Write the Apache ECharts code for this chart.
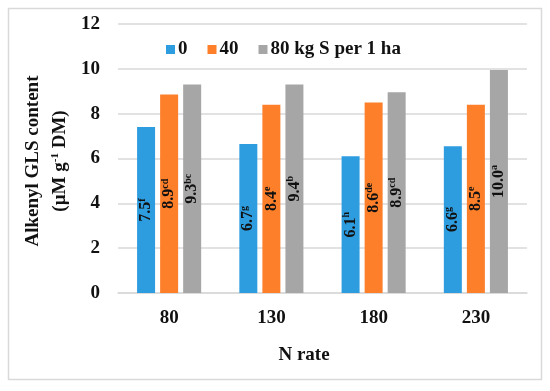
<!DOCTYPE html>
<html><head><meta charset="utf-8">
<script src="https://cdn.jsdelivr.net/npm/echarts@6/dist/echarts.min.js"></script>
<style>html,body{margin:0;padding:0;background:#fff}#c{width:550px;height:391px}</style>
</head><body><div id="c"></div>
<script>
const categories = ['80', '130', '180', '230'];
const seriesNames = ['0', '40', '80 kg S per 1 ha'];
const values0 = [7.4, 6.65, 6.1, 6.55];
const values40 = [8.85, 8.4, 8.5, 8.4];
const values80 = [9.3, 9.3, 8.95, 9.95];
const labels0 = [['7.5','f'], ['6.7','g'], ['6.1','h'], ['6.6','g']];
const labels40 = [['8.9','cd'], ['8.4','e'], ['8.6','de'], ['8.5','e']];
const labels80 = [['9.3','bc'], ['9.4','b'], ['8.9','cd'], ['10.0','a']];
const yTicks = [0, 2, 4, 6, 8, 10, 12];
const colors = ['#2e9de0', '#fd7f2a', '#a6a6a6'];

const FONT = '"Liberation Serif", "Times New Roman", serif';
const chart = echarts.init(document.getElementById('c'));

function mkSeries(name, vals, labs, color) {
  return {
    name: name, type: 'bar', barWidth: 18, barGap: '28%',
    itemStyle: { color: color },
    data: vals.map((v, i) => ({ value: v, lab: labs[i] })),
    label: {
      show: true, position: 'inside', rotate: 90,
      formatter: p => '{v|' + p.data.lab[0] + '}{s|' + p.data.lab[1] + '}',
      rich: {
        v: { fontFamily: FONT, fontWeight: 'bold', fontSize: 16, color: '#111' },
        s: { fontFamily: FONT, fontWeight: 'bold', fontSize: 10, color: '#111', padding: [0, 0, 8, 0] }
      }
    }
  };
}

chart.setOption({
  animation: false,
  textStyle: { fontFamily: FONT },
  grid: { left: 118, right: 23, top: 24, bottom: 98 },
  legend: {
    top: 35, left: 161, itemWidth: 9, itemHeight: 9, itemGap: 20,
    icon: 'rect',
    textStyle: { fontFamily: FONT, fontWeight: 'bold', fontSize: 19, color: '#111', padding: [0, 0, 0, -2] },
    data: seriesNames
  },
  xAxis: {
    type: 'category', data: categories,
    axisLine: { lineStyle: { color: '#d9d9d9', width: 1.5 } },
    axisTick: { show: false },
    axisLabel: { fontFamily: FONT, fontWeight: 'bold', fontSize: 19, color: '#111', margin: 16 }
  },
  yAxis: {
    type: 'value', min: yTicks[0], max: yTicks[yTicks.length - 1], interval: 2,
    axisLine: { show: false }, axisTick: { show: false },
    splitLine: { lineStyle: { color: '#d9d9d9', width: 1.5 } },
    axisLabel: { fontFamily: FONT, fontWeight: 'bold', fontSize: 19, color: '#111', margin: 18 }
  },
  graphic: [
    { type: 'rect', shape: { x: 8.5, y: 8.5, width: 533, height: 371 },
      style: { fill: 'none', stroke: '#d9d9d9', lineWidth: 1.5 }, silent: true },
    { type: 'text', x: 304, y: 355,
      style: { text: 'N rate', font: 'bold 19px ' + FONT, fill: '#111', align: 'center', verticalAlign: 'middle' } },
    { type: 'text', x: 33, y: 161, rotation: Math.PI / 2,
      style: { text: 'Alkenyl GLS content', font: 'bold 19px ' + FONT, fill: '#111', align: 'center', verticalAlign: 'middle' } },
    { type: 'text', x: 60, y: 161, rotation: Math.PI / 2,
      style: {
        text: '{a|(µM g}{b|-1}{a| DM)}', align: 'center', verticalAlign: 'middle',
        rich: {
          a: { fontFamily: FONT, fontWeight: 'bold', fontSize: 19, fill: '#111' },
          b: { fontFamily: FONT, fontWeight: 'bold', fontSize: 11, fill: '#111', padding: [0, 0, 9, 0] }
        }
      } }
  ],
  series: [
    mkSeries(seriesNames[0], values0, labels0, colors[0]),
    mkSeries(seriesNames[1], values40, labels40, colors[1]),
    mkSeries(seriesNames[2], values80, labels80, colors[2])
  ]
});
</script></body></html>
